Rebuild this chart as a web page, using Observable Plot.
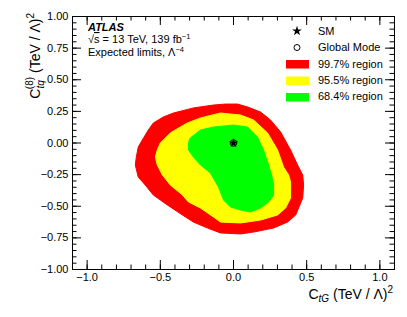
<!DOCTYPE html>
<html><head><meta charset="utf-8">
<script src="https://cdn.jsdelivr.net/npm/d3@7"></script>
<script src="https://cdn.jsdelivr.net/npm/@observablehq/plot@0.6"></script>
<style>
body{margin:0;background:#fff}
svg{font-family:"Liberation Sans",Arial,sans-serif}
</style>
</head><body><div id="chart"></div>
<script>
// 99.7% region boundary
const redX = [-0.137,-0.055,0.027,0.096,0.185,0.253,0.322,0.390,0.438,0.473,0.479,0.473,0.425,0.370,0.274,0.137,0.048,-0.089,-0.178,-0.274,-0.349,-0.452,-0.548,-0.603,-0.651,-0.671,-0.664,-0.651,-0.623,-0.582,-0.548,-0.479,-0.411,-0.274];
const redY = [0.300,0.308,0.308,0.285,0.245,0.182,0.087,-0.055,-0.174,-0.253,-0.332,-0.435,-0.569,-0.625,-0.672,-0.704,-0.719,-0.711,-0.672,-0.625,-0.569,-0.490,-0.411,-0.332,-0.269,-0.174,-0.111,-0.032,0.024,0.103,0.158,0.206,0.237,0.277];
// 95.5% region boundary
const yellowX = [-0.315,-0.226,-0.089,0.048,0.137,0.233,0.301,0.342,0.377,0.390,0.390,0.356,0.301,0.185,0.048,-0.089,-0.137,-0.226,-0.308,-0.349,-0.432,-0.486,-0.521,-0.534,-0.521,-0.500,-0.432];
const yellowY = [0.158,0.198,0.237,0.221,0.182,0.079,-0.055,-0.190,-0.253,-0.308,-0.435,-0.514,-0.569,-0.609,-0.632,-0.625,-0.585,-0.514,-0.466,-0.411,-0.332,-0.253,-0.174,-0.111,-0.055,0.000,0.079];
// 68.4% region boundary
const greenX = [-0.295,-0.226,-0.137,0.000,0.096,0.164,0.205,0.240,0.260,0.274,0.274,0.240,0.185,0.116,0.048,-0.021,-0.068,-0.103,-0.158,-0.226,-0.274,-0.308,-0.308];
const greenY = [0.040,0.103,0.126,0.142,0.126,0.047,-0.055,-0.174,-0.253,-0.332,-0.411,-0.466,-0.514,-0.545,-0.530,-0.506,-0.451,-0.348,-0.237,-0.174,-0.111,-0.055,0.000];
// SM point and global mode
const smX = [0], smY = [0];
const modeX = [0], modeY = [0];
// ticks
const xMajor = [-1.0, -0.5, 0.0, 0.5, 1.0];
const yMajor = [-1.0, -0.75, -0.5, -0.25, 0.0, 0.25, 0.5, 0.75, 1.0];
const xMinor = d3.range(-11, 12).map(d => d / 10);
const yMinor = d3.range(-20, 21).map(d => d / 20);
const legendLabels = ["SM", "Global Mode", "99.7% region", "95.5% region", "68.4% region"];
const regionColors = ["#ff0000", "#ffff00", "#00ff00"];

const toPts = (xs, ys) => xs.map((x, i) => ({x, y: ys[i]}));
const W = 407, H = 317, mL = 72, mR = 13, mT = 16, mB = 48;
const fH = H - mT - mB, fW = W - mL - mR;

const plot = Plot.plot({
  width: W, height: H,
  marginLeft: mL, marginRight: mR, marginTop: mT, marginBottom: mB,
  style: {fontFamily: '"Liberation Sans", Arial, sans-serif', fontSize: "11px", background: "#fff", color: "#000"},
  x: {domain: [-1.1, 1.1], axis: null, label: null},
  y: {domain: [-1, 1], axis: null, label: null},
  marks: [
    Plot.line(toPts(redX, redY), {x: "x", y: "y", fill: regionColors[0], stroke: regionColors[0], strokeWidth: 1, curve: "linear-closed"}),
    Plot.line(toPts(yellowX, yellowY), {x: "x", y: "y", fill: regionColors[1], stroke: regionColors[1], strokeWidth: 1, curve: "linear-closed"}),
    Plot.line(toPts(greenX, greenY), {x: "x", y: "y", fill: regionColors[2], stroke: regionColors[2], strokeWidth: 1, curve: "linear-closed"}),
    Plot.dot(toPts(modeX, modeY), {x: "x", y: "y", symbol: "circle", r: 3.3, stroke: "#000", fill: "none", strokeWidth: 1}),
    Plot.dot(toPts(smX, smY), {x: "x", y: "y", symbol: "star", r: 3, fill: "#000", stroke: "none"}),
    // inward ticks: bottom, top
    Plot.tickX(xMajor, {x: d => d, insetTop: fH - 9, stroke: "#000"}),
    Plot.tickX(xMajor, {x: d => d, insetBottom: fH - 9, stroke: "#000"}),
    Plot.tickX(xMinor, {x: d => d, insetTop: fH - 4.5, stroke: "#000"}),
    Plot.tickX(xMinor, {x: d => d, insetBottom: fH - 4.5, stroke: "#000"}),
    // inward ticks: left, right
    Plot.tickY(yMajor, {y: d => d, insetRight: fW - 9, stroke: "#000"}),
    Plot.tickY(yMajor, {y: d => d, insetLeft: fW - 9, stroke: "#000"}),
    Plot.tickY(yMinor, {y: d => d, insetRight: fW - 4.5, stroke: "#000"}),
    Plot.tickY(yMinor, {y: d => d, insetLeft: fW - 4.5, stroke: "#000"}),
    Plot.frame({stroke: "#000"}),
    Plot.axisX(xMajor, {anchor: "bottom", label: null, tickSize: 0, tickPadding: 4, tickFormat: d3.format(".1f"), fontSize: 11}),
    Plot.axisY(yMajor, {anchor: "left", label: null, tickSize: 0, tickPadding: 4, tickFormat: d3.format(".2f"), fontSize: 11})
  ]
});
document.getElementById("chart").appendChild(plot);

const svg = d3.select(plot);
const g = svg.append("g").attr("fill", "#000").attr("font-size", 11).attr("text-anchor", "start");

// ATLAS labels
g.append("text").attr("x", 88).attr("y", 31).attr("font-weight", "bold").attr("font-style", "italic").text("ATLAS");
const t2 = g.append("text").attr("x", 88).attr("y", 43);
t2.append("tspan").text("\u221A");
t2.append("tspan").attr("text-decoration", "overline").text("s");
t2.append("tspan").text(" = 13 TeV, 139 fb");
t2.append("tspan").attr("font-size", 7.5).attr("dy", -4).text("\u22121");
const t3 = g.append("text").attr("x", 88).attr("y", 56);
t3.append("tspan").text("Expected limits, \u039B");
t3.append("tspan").attr("font-size", 7.5).attr("dy", -4).text("\u22124");

// Legend
const lx = 297, tx = 318;
g.append("path").attr("transform", `translate(${lx},31)`).attr("d", d3.symbol(d3.symbolStar, 30)());
g.append("circle").attr("cx", lx).attr("cy", 47.5).attr("r", 3).attr("fill", "none").attr("stroke", "#000");
const rowY = [35, 51, 68, 84, 100];
regionColors.forEach((c, i) => {
  g.append("rect").attr("x", 286).attr("y", 60 + i * 16.5).attr("width", 23).attr("height", 8.5).attr("fill", c);
});
legendLabels.forEach((s, i) => {
  g.append("text").attr("x", tx).attr("y", rowY[i]).text(s);
});

// X axis title
const xt = g.append("text").attr("x", 393).attr("y", 299).attr("text-anchor", "end").attr("font-size", 14);
xt.append("tspan").text("C");
xt.append("tspan").attr("font-size", 10).attr("font-style", "italic").attr("dy", 3).text("tG");
xt.append("tspan").attr("dy", -3).text(" (TeV / \u039B)");
xt.append("tspan").attr("font-size", 10).attr("dy", -6).text("2");

// Y axis title
const yt = g.append("text").attr("transform", "translate(40,13) rotate(-90)").attr("text-anchor", "end").attr("font-size", 14);
yt.append("tspan").text("C");
yt.append("tspan").attr("font-size", 10).attr("font-style", "italic").attr("dy", 4).text("tq");
yt.append("tspan").attr("font-size", 10).attr("dx", -9).attr("dy", -11).text("(8)");
yt.append("tspan").attr("dy", 7).text(" (TeV / \u039B)");
yt.append("tspan").attr("font-size", 10).attr("dy", -6).text("2");
</script>
</body></html>
